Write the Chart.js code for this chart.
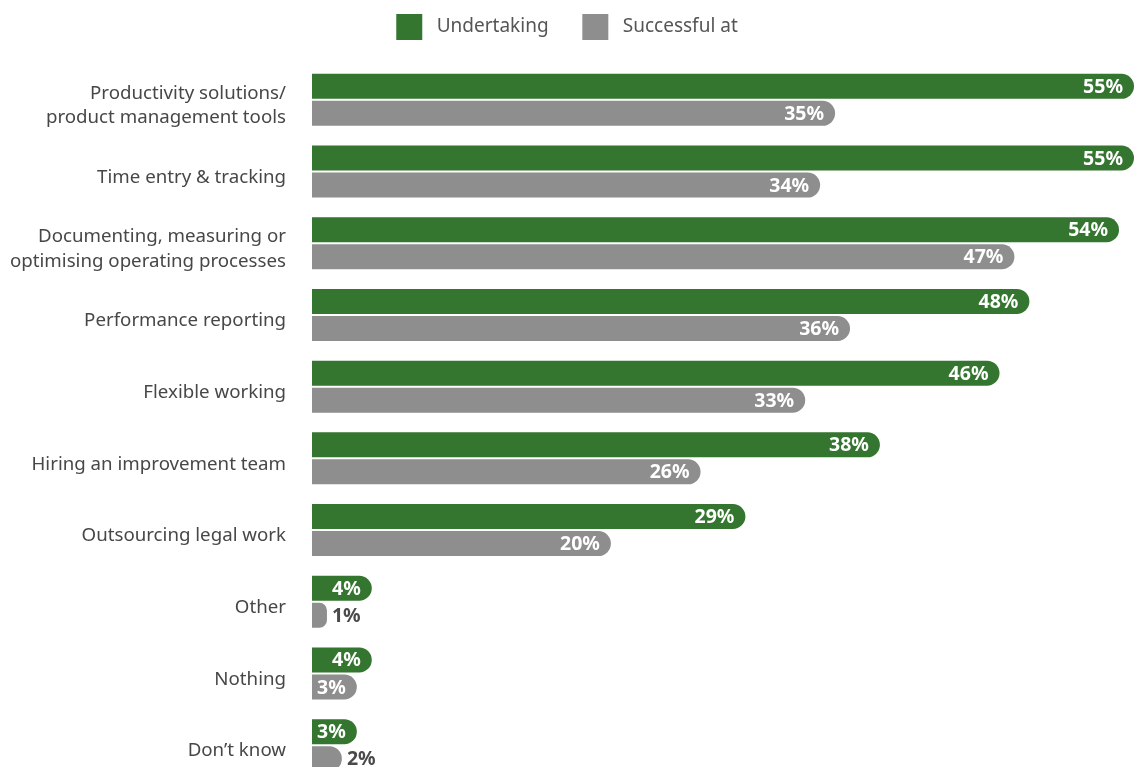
<!DOCTYPE html>
<html>
<head>
<meta charset="utf-8">
<script src="https://cdn.jsdelivr.net/npm/chart.js@4"></script>
<style>
  html, body { margin: 0; padding: 0; background: #fff; overflow: hidden; }
  canvas { display: block; }
</style>
</head>
<body>
<canvas id="chart" width="1134" height="781"></canvas>
<script>
const categories = [
  ["Productivity solutions/", "product management tools"],
  "Time entry & tracking",
  ["Documenting, measuring or", "optimising operating processes"],
  "Performance reporting",
  "Flexible working",
  "Hiring an improvement team",
  "Outsourcing legal work",
  "Other",
  "Nothing",
  "Don’t know",
];
const seriesNames = ["Undertaking", "Successful at"];
const undertaking = [55, 55, 54, 48, 46, 38, 29, 4, 4, 3];
const successfulAt = [35, 34, 47, 36, 33, 26, 20, 1, 3, 2];

const green = "#34752f";
const grey = "#8e8e8e";
const fontFamily = "'Noto Sans', 'Open Sans', sans-serif";

// value labels at the end of each bar
const barLabels = {
  id: "barLabels",
  afterDatasetsDraw(chart) {
    const ctx = chart.ctx;
    ctx.save();
    ctx.font = "bold 19.5px " + fontFamily;
    ctx.textBaseline = "middle";
    chart.data.datasets.forEach((ds, i) => {
      const meta = chart.getDatasetMeta(i);
      meta.data.forEach((bar, j) => {
        const text = ds.data[j] + "%";
        const w = ctx.measureText(text).width;
        const len = bar.x - bar.base;
        if (len - 12 >= w) {
          ctx.fillStyle = "#ffffff";
          ctx.textAlign = "right";
          ctx.fillText(text, bar.x - 11, bar.y + 1);
        } else {
          ctx.fillStyle = "#4a4a4a";
          ctx.textAlign = "left";
          ctx.fillText(text, bar.x + 5, bar.y + 1);
        }
      });
    });
    ctx.restore();
  },
};

// extra room under the legend
const legendSpace = {
  id: "legendSpace",
  afterInit(chart) {
    const legend = chart.legend;
    const fit = legend.fit;
    legend.fit = function () {
      fit.call(this);
      this.height += 14;
    };
  },
};

new Chart(document.getElementById("chart"), {
  type: "bar",
  data: {
    labels: categories,
    datasets: [
      {
        label: seriesNames[0],
        data: undertaking,
        backgroundColor: green,
        borderRadius: 13,
        borderSkipped: "start",
      },
      {
        label: seriesNames[1],
        data: successfulAt,
        backgroundColor: grey,
        borderRadius: 13,
        borderSkipped: "start",
      },
    ],
  },
  options: {
    indexAxis: "y",
    responsive: false,
    animation: false,
    layout: { padding: 0 },
    datasets: {
      bar: { categoryPercentage: 0.754, barPercentage: 0.925 },
    },
    scales: {
      x: { display: false, min: 0, max: 55 },
      y: {
        grid: { display: false, drawTicks: false },
        border: { display: false },
        ticks: {
          padding: 26,
          labelOffset: 6,
          color: "#474747",
          font: { family: fontFamily, size: 18.7, lineHeight: 1.3 },
        },
        afterFit(scale) {
          scale.width = 312;
          scale.paddingTop = 0;
          scale.paddingBottom = 0;
        },
      },
    },
    plugins: {
      tooltip: { enabled: false },
      legend: {
        position: "top",
        labels: {
          boxWidth: 26,
          boxHeight: 26,
          padding: 14,
          color: "#555555",
          font: { family: fontFamily, size: 19 },
          generateLabels(chart) {
            const items = Chart.defaults.plugins.legend.labels.generateLabels(chart);
            items.forEach((it, i) => {
              it.text = " " + it.text + (i === 0 ? "    " : "");
              it.lineWidth = 0;
            });
            return items;
          },
        },
      },
    },
  },
  plugins: [barLabels, legendSpace],
});
</script>
</body>
</html>
